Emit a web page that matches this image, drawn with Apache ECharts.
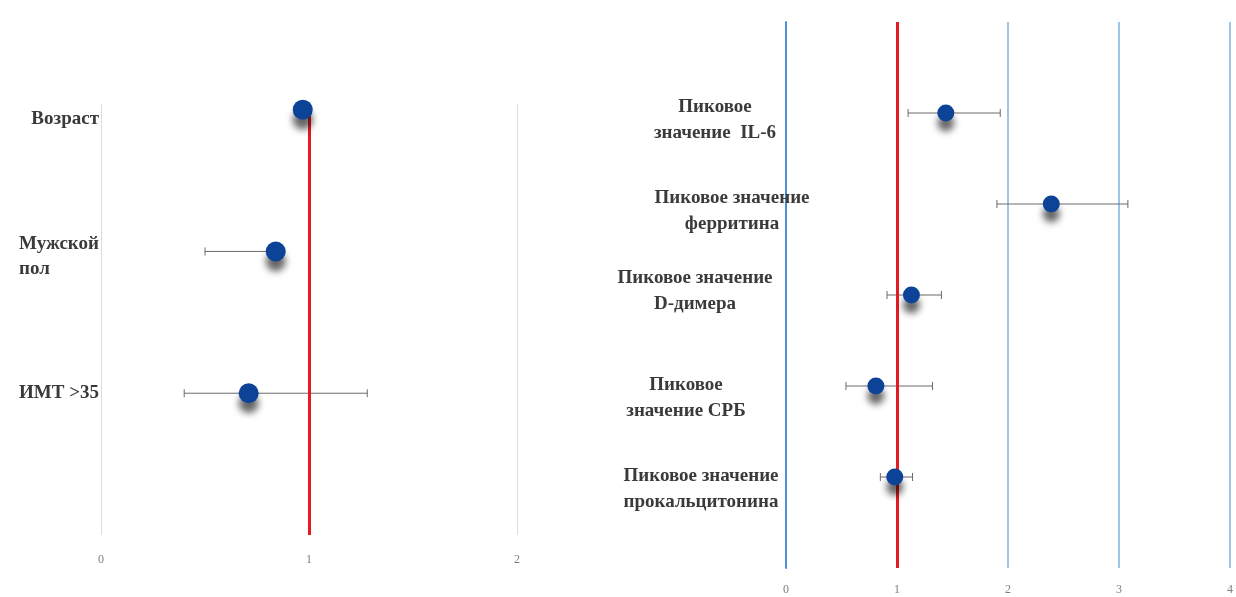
<!DOCTYPE html>
<html>
<head>
<meta charset="utf-8">
<script src="https://cdn.jsdelivr.net/npm/echarts@6/dist/echarts.min.js"></script>
<style>
  html, body { margin: 0; padding: 0; background: #fff; }
  #chart { width: 1236px; height: 597px; }
</style>
</head>
<body>
<div id="chart"></div>
<script>
// Left panel: demographic factors (odds ratio with 95% CI)
var leftNames = ['Возраст', 'Мужской\nпол', 'ИМТ >35'];
var leftOR    = [0.97, 0.84, 0.71];
var leftLo    = [0.96, 0.50, 0.40];
var leftHi    = [0.99, 0.87, 1.28];
var leftTicks = [0, 1, 2];

// Right panel: peak laboratory values (odds ratio with 95% CI)
var rightNames = ['Пиковое\nзначение  IL-6', 'Пиковое значение\nферритина',
                  'Пиковое значение\nD-димера', 'Пиковое\nзначение СРБ',
                  'Пиковое значение\nпрокальцитонина'];
var rightOR    = [1.44, 2.39, 1.13, 0.81, 0.98];
var rightLo    = [1.10, 1.90, 0.91, 0.54, 0.85];
var rightHi    = [1.93, 3.08, 1.40, 1.32, 1.14];
var rightTicks = [0, 1, 2, 3, 4];

// Text-box placement of the row captions, in pixels from the zero line of each panel
var leftCaptionShift  = [[-2, 9], [-2, 5], [-2, 0]];
var rightCaptionShift = [[-71, 7], [-54, 7], [-91, -4], [-100, 12], [-85, 12]];

var SERIF = '"Liberation Serif", "DejaVu Serif", serif';

// rows are placed top-down: first name gets the highest y value
function rowY(n, i) { return n - i; }

function points(names, or) {
  return or.map(function (v, i) { return [v, rowY(names.length, i)]; });
}
function bars(names, lo, hi) {
  return lo.map(function (l, i) { return [l, hi[i], rowY(names.length, i)]; });
}
function captions(names, shift) {
  return names.map(function (n, i) {
    return { name: n, value: [0, rowY(names.length, i)], label: { offset: shift[i] } };
  });
}

// error bar with small end caps
function errorBar(params, api) {
  var lo = api.coord([api.value(0), api.value(2)]);
  var hi = api.coord([api.value(1), api.value(2)]);
  var cap = 4;
  var st = { stroke: '#6b6b6b', lineWidth: 1 };
  return {
    type: 'group',
    children: [
      { type: 'line', shape: { x1: lo[0], y1: lo[1], x2: hi[0], y2: hi[1] }, style: st },
      { type: 'line', shape: { x1: lo[0], y1: lo[1] - cap, x2: lo[0], y2: lo[1] + cap }, style: st },
      { type: 'line', shape: { x1: hi[0], y1: hi[1] - cap, x2: hi[0], y2: hi[1] + cap }, style: st }
    ]
  };
}

var pointStyle = {
  color: '#0d4396',
  opacity: 1,
  shadowColor: 'rgba(0,0,0,0.6)',
  shadowBlur: 7,
  shadowOffsetY: 10
};

var labelText = { fontFamily: SERIF, fontWeight: 'bold', fontSize: 19, color: '#3a3a3a' };

var chart = echarts.init(document.getElementById('chart'), null, { renderer: 'canvas' });
chart.setOption({
  animation: false,
  backgroundColor: '#ffffff',
  grid: [
    { left: 101, right: 719, top: 104, bottom: 62 },
    { left: 786, right: 6, top: 22, bottom: 29 }
  ],
  xAxis: [
    {
      gridIndex: 0, type: 'value', min: leftTicks[0], max: leftTicks[leftTicks.length - 1], interval: 1,
      axisLine: { show: false }, axisTick: { show: false },
      splitLine: { show: true, lineStyle: { color: '#dcdcdc', width: 1 } },
      axisLabel: { color: '#808080', fontFamily: SERIF, fontSize: 12, margin: 19 }
    },
    {
      gridIndex: 1, type: 'value', min: rightTicks[0], max: rightTicks[rightTicks.length - 1], interval: 1,
      axisLine: { show: false }, axisTick: { show: false },
      splitLine: { show: true, lineStyle: { color: '#9fc5ea', width: 2 } },
      axisLabel: { color: '#808080', fontFamily: SERIF, fontSize: 12, margin: 16 }
    }
  ],
  yAxis: [
    {
      gridIndex: 0, type: 'value', min: 0, max: 3.04, interval: 1,
      axisLine: { show: false }, axisTick: { show: false }, splitLine: { show: false },
      axisLabel: { show: false }
    },
    {
      gridIndex: 1, type: 'value', min: 0, max: 6, interval: 1,
      axisLine: { show: true, lineStyle: { color: '#4a92d8', width: 2 } },
      axisTick: { show: false }, splitLine: { show: false },
      axisLabel: { show: false }
    }
  ],
  series: [
    // row captions, left panel
    {
      type: 'scatter', xAxisIndex: 0, yAxisIndex: 0, symbolSize: 0, clip: false, silent: true,
      itemStyle: { color: 'transparent', opacity: 1 },
      label: {
        show: true, position: 'inside', align: 'right', verticalAlign: 'middle',
        formatter: function (p) {
          var parts = p.name.split('\n');
          return parts.length === 1 ? '{a|' + parts[0] + '}' : '{a|' + parts[0] + '}\n{b|' + parts[1] + '}';
        },
        rich: {
          a: Object.assign({ lineHeight: 25 }, labelText),
          b: Object.assign({ lineHeight: 25, align: 'left' }, labelText)
        }
      },
      data: captions(leftNames, leftCaptionShift)
    },
    // row captions, right panel
    {
      type: 'scatter', xAxisIndex: 1, yAxisIndex: 1, symbolSize: 0, clip: false, silent: true,
      itemStyle: { color: 'transparent', opacity: 1 },
      label: Object.assign({
        show: true, position: 'inside', align: 'center', verticalAlign: 'middle',
        lineHeight: 26, formatter: '{b}'
      }, labelText),
      data: captions(rightNames, rightCaptionShift)
    },
    {
      type: 'custom', xAxisIndex: 0, yAxisIndex: 0, silent: true, z: 3,
      renderItem: errorBar, data: bars(leftNames, leftLo, leftHi)
    },
    {
      type: 'scatter', xAxisIndex: 0, yAxisIndex: 0, symbolSize: 20, z: 5,
      itemStyle: pointStyle, data: points(leftNames, leftOR),
      markLine: {
        silent: true, symbol: 'none', label: { show: false }, z: 4,
        lineStyle: { color: '#e41b23', width: 3, type: 'solid' },
        data: [[{ coord: [1, 0] }, { coord: [1, 2.96] }]]
      }
    },
    {
      type: 'custom', xAxisIndex: 1, yAxisIndex: 1, silent: true, z: 3,
      renderItem: errorBar, data: bars(rightNames, rightLo, rightHi)
    },
    {
      type: 'scatter', xAxisIndex: 1, yAxisIndex: 1, symbolSize: 17, z: 5,
      itemStyle: pointStyle, data: points(rightNames, rightOR),
      markLine: {
        silent: true, symbol: 'none', label: { show: false }, z: 4,
        lineStyle: { color: '#e41b23', width: 3, type: 'solid' },
        data: [{ xAxis: 1 }]
      }
    }
  ]
});
</script>
</body>
</html>
